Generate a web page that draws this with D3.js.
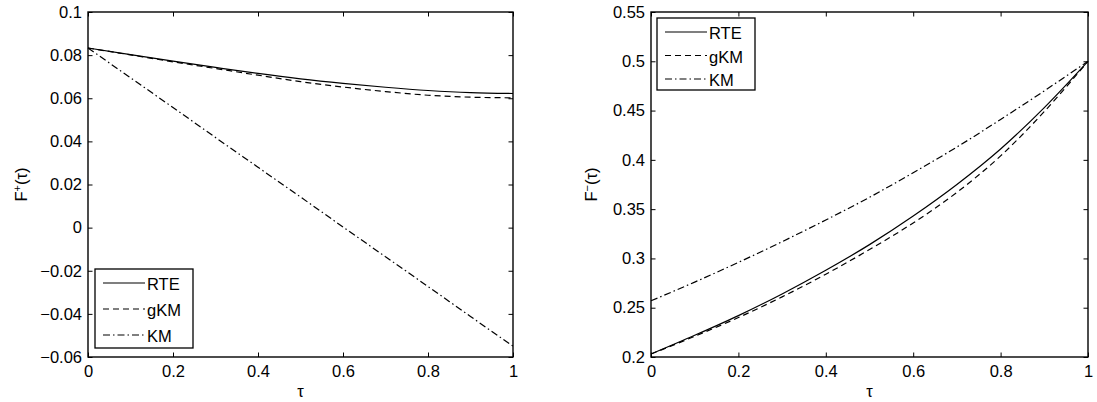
<!DOCTYPE html>
<html>
<head>
<meta charset="utf-8">
<script src="https://cdn.jsdelivr.net/npm/d3@7"></script>
<style>
  body { margin: 0; background: #fff; }
  svg { display: block; }
  text { font-family: "Liberation Sans", Arial, sans-serif; fill: #000; }
</style>
</head>
<body>
<div id="chart"></div>
<script>
const tau = [0, 0.1, 0.2, 0.3, 0.4, 0.5, 0.6, 0.7, 0.8, 0.9, 1.0];

const rtePlus = [0.0833, 0.0802, 0.0772, 0.0743, 0.0715, 0.0690, 0.0669, 0.0651, 0.0636, 0.0626, 0.0622];
const gkmPlus = [0.0833, 0.0801, 0.0769, 0.0738, 0.0707, 0.0677, 0.0652, 0.0631, 0.0614, 0.0605, 0.0602];
const kmPlus  = [0.0833, 0.0695, 0.0557, 0.0418, 0.0280, 0.0142, 0.0003, -0.0135, -0.0273, -0.0412, -0.0550];

const rteMinus = [0.203, 0.222, 0.242, 0.264, 0.288, 0.314, 0.343, 0.375, 0.411, 0.453, 0.500];
const gkmMinus = [0.203, 0.221, 0.240, 0.261, 0.284, 0.309, 0.336, 0.367, 0.404, 0.449, 0.500];
const kmMinus  = [0.257, 0.276, 0.296, 0.317, 0.339, 0.362, 0.387, 0.413, 0.441, 0.470, 0.500];

const xTicks = [0, 0.2, 0.4, 0.6, 0.8, 1];
const xTickLabels = ["0", "0.2", "0.4", "0.6", "0.8", "1"];

const yTicksPlus = [-0.06, -0.04, -0.02, 0, 0.02, 0.04, 0.06, 0.08, 0.1];
const yTickLabelsPlus = ["\u22120.06", "\u22120.04", "\u22120.02", "0", "0.02", "0.04", "0.06", "0.08", "0.1"];

const yTicksMinus = [0.2, 0.25, 0.3, 0.35, 0.4, 0.45, 0.5, 0.55];
const yTickLabelsMinus = ["0.2", "0.25", "0.3", "0.35", "0.4", "0.45", "0.5", "0.55"];

const seriesNames = ["RTE", "gKM", "KM"];
const dashes = [null, "6,4", "7,3,1.5,3"];

const W = 1097, H = 402;
const FS = 16.5;
const svg = d3.select("#chart").append("svg")
  .attr("width", W).attr("height", H);

function panel(opt) {
  const x = d3.scaleLinear().domain([0, 1]).range([opt.left, opt.right]);
  const y = d3.scaleLinear().domain(opt.yDomain).range([357, 12]);
  const g = svg.append("g");

  // lines
  const line = d3.line()
    .x((d, i) => x(tau[i]))
    .y(d => y(d))
    .curve(d3.curveMonotoneX);
  opt.series.forEach((s, k) => {
    g.append("path")
      .attr("d", line(s))
      .attr("fill", "none")
      .attr("stroke", "#000")
      .attr("stroke-width", 1.2)
      .attr("stroke-dasharray", dashes[k]);
  });

  // axes, ticks inside on all four sides like matlab
  const tl = 4.5;
  g.append("g").attr("transform", `translate(0,${y.range()[0]})`)
    .call(d3.axisBottom(x).tickValues(xTicks).tickSizeInner(-tl).tickSizeOuter(0)
      .tickFormat((d, i) => xTickLabels[i]).tickPadding(8.5));
  g.append("g").attr("transform", `translate(0,${y.range()[1]})`)
    .call(d3.axisTop(x).tickValues(xTicks).tickSizeInner(-tl).tickSizeOuter(0).tickFormat(""));
  g.append("g").attr("transform", `translate(${opt.left},0)`)
    .call(d3.axisLeft(y).tickValues(opt.yTicks).tickSizeInner(-tl).tickSizeOuter(0)
      .tickFormat((d, i) => opt.yLabels[i]).tickPadding(6));
  g.append("g").attr("transform", `translate(${opt.right},0)`)
    .call(d3.axisRight(y).tickValues(opt.yTicks).tickSizeInner(-tl).tickSizeOuter(0).tickFormat(""));

  g.selectAll(".domain").remove();
  g.selectAll(".tick line").attr("stroke", "#000").attr("stroke-width", 1);
  g.selectAll(".tick text").attr("font-size", FS)
    .attr("font-family", "'Liberation Sans', Arial, sans-serif").attr("fill", "#000");

  g.append("rect")
    .attr("x", opt.left).attr("y", 12)
    .attr("width", opt.right - opt.left).attr("height", 345)
    .attr("fill", "none").attr("stroke", "#000").attr("stroke-width", 1.4);

  // axis labels
  g.append("text")
    .attr("x", (opt.left + opt.right) / 2).attr("y", 397)
    .attr("text-anchor", "middle").attr("font-size", FS)
    .text("\u03c4");

  const yl = g.append("text")
    .attr("transform", `translate(${opt.yLabelX},184.5) rotate(-90)`)
    .attr("text-anchor", "middle").attr("font-size", FS);
  yl.append("tspan").text("F");
  yl.append("tspan").attr("dy", -6).attr("font-size", 11).text(opt.sup);
  yl.append("tspan").attr("dy", 6).text("(\u03c4)");

  // legend
  const lg = g.append("g").attr("transform", `translate(${opt.legend[0]},${opt.legend[1]})`);
  lg.append("rect")
    .attr("width", 98).attr("height", opt.legend[2])
    .attr("fill", "#fff").attr("stroke", "#000").attr("stroke-width", 1.3);
  seriesNames.forEach((name, k) => {
    const yy = opt.legend[3] + k * opt.legend[4];
    lg.append("line")
      .attr("x1", 8).attr("x2", 50).attr("y1", yy).attr("y2", yy)
      .attr("stroke", "#000").attr("stroke-width", 1.2)
      .attr("stroke-dasharray", dashes[k]);
    lg.append("text")
      .attr("x", 52).attr("y", yy + 7)
      .attr("font-size", FS).text(name);
  });
}

panel({
  left: 88, right: 513,
  yDomain: [-0.06, 0.1],
  yTicks: yTicksPlus, yLabels: yTickLabelsPlus,
  series: [rtePlus, gkmPlus, kmPlus],
  sup: "+", yLabelX: 27,
  legend: [95, 269, 79, 14, 26]
});

panel({
  left: 651, right: 1088,
  yDomain: [0.2, 0.55],
  yTicks: yTicksMinus, yLabels: yTickLabelsMinus,
  series: [rteMinus, gkmMinus, kmMinus],
  sup: "\u2212", yLabelX: 597,
  legend: [657, 18, 72, 14, 23.5]
});
</script>
</body>
</html>
